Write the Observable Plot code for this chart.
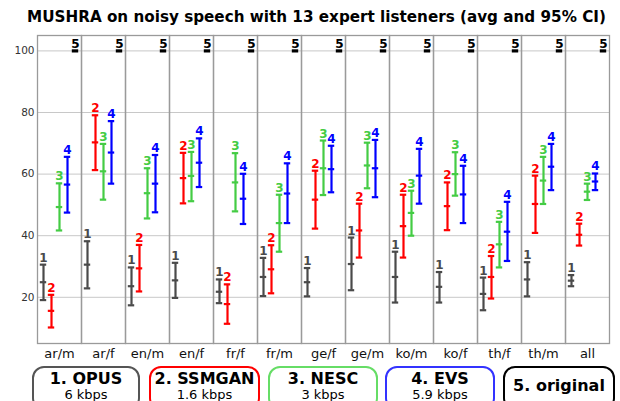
<!DOCTYPE html>
<html>
<head>
<meta charset="utf-8">
<script src="https://cdn.jsdelivr.net/npm/d3@7"></script>
<script src="https://cdn.jsdelivr.net/npm/@observablehq/plot@0.6"></script>
<style>
  html, body { margin: 0; padding: 0; background: #fff; }
  body { width: 620px; height: 401px; overflow: hidden; font-family: "DejaVu Sans", Verdana, sans-serif; position: relative; }
  #title { height: 30px; line-height: 35px; font-weight: bold; font-size: 15.2px; text-align: center; padding-left: 13px; white-space: nowrap; }
  #chart svg { display: block; }
  #legend { position: absolute; top: 366px; left: 0; width: 620px; height: 50px; }
  .box { position: absolute; top: 0; height: 44px; border: 2.7px solid; border-radius: 12px; box-sizing: border-box; text-align: center; }
  .box .n { font-weight: bold; font-size: 16px; line-height: 17px; margin-top: 2px; }
  .box .r { font-size: 13px; line-height: 15px; }
  .box.single .n { line-height: 36px; margin-top: 0; }
</style>
</head>
<body>
<div id="title">MUSHRA on noisy speech with 13 expert listeners (avg and 95% CI)</div>
<div id="chart"></div>
<div id="legend"></div>
<script>
const categories = ["ar/m","ar/f","en/m","en/f","fr/f","fr/m","ge/f","ge/m","ko/m","ko/f","th/f","th/m","all"];
const seriesKeys = ["1","2","3","4","5"];
const seriesNames = ["1. OPUS","2. SSMGAN","3. NESC","4. EVS","5. original"];
const seriesRates = ["6 kbps","1.6 kbps","3 kbps","5.9 kbps",""];
const seriesColors = ["#4a4a4a","#ff0000","#44cc44","#0000ff","#000000"];
const legendBorders = ["#555555","#ff0000","#66dd66","#3333ff","#000000"];

const opusMean = [24.9,30.6,23.6,25.5,21.8,26.6,24.9,30.8,26.6,23.4,21.1,25.8,25.4];
const opusLo   = [19.1,22.9,17.4,19.8,18.1,20.4,20.3,22.3,18.3,18.3,15.8,20.3,23.6];
const opusHi   = [30.6,38.2,29.7,31.2,25.8,32.8,29.5,39.4,34.8,28.2,26.4,31.4,27.2];

const ssmganMean = [15.6,70.3,29.4,58.7,17.8,29.1,51.7,41.7,43.1,49.6,26.6,50.3,40.3];
const ssmganLo   = [10.2,61.3,21.9,50.5,11.4,21.3,42.3,32.9,32.9,41.8,19.6,40.9,36.8];
const ssmganHi   = [20.8,79.1,37.0,66.9,24.2,36.9,61.1,50.4,53.3,57.3,33.4,59.5,43.9];

const nescMean = [49.3,60.9,53.8,59.4,57.3,44.1,61.9,62.8,47.4,60.0,37.2,57.9,54.3];
const nescLo   = [41.7,51.7,45.6,51.2,47.9,34.8,53.2,55.4,40.0,53.0,29.7,50.3,51.6];
const nescHi   = [57.0,69.8,61.9,67.2,66.8,53.3,70.9,70.2,54.6,67.1,44.5,65.6,56.9];

const evsMean = [56.6,67.0,56.9,63.7,52.0,53.7,61.6,61.9,59.5,53.4,41.3,62.4,57.6];
const evsLo   = [47.5,56.9,47.6,55.8,43.8,44.1,54.1,52.5,50.4,44.1,31.8,54.8,54.8];
const evsHi   = [65.6,77.2,66.2,71.6,60.1,63.5,69.2,71.1,68.2,62.7,51.0,69.8,60.2];

const origMean = [100,100,100,100,100,100,100,100,100,100,100,100,100];

const yTicks = [20,40,60,80,100];

const seriesData = [
  [opusMean, opusLo, opusHi],
  [ssmganMean, ssmganLo, ssmganHi],
  [nescMean, nescLo, nescHi],
  [evsMean, evsLo, evsHi],
  [origMean, origMean, origMean]
];

const rows = [];
seriesData.forEach(([m, lo, hi], si) => {
  categories.forEach((c, ci) => {
    rows.push({cat: c, s: seriesKeys[si], mean: m[ci], lo: lo[ci], hi: hi[ci]});
  });
});
const bars = rows.filter(d => d.s !== "5");
const orig = rows.filter(d => d.s === "5");

const common = {fx: "cat", x: "s"};
const cap = {stroke: "s", strokeWidth: 2.2, insetLeft: 0.8, insetRight: 0.8};

const chart = Plot.plot({
  width: 620,
  height: 335,
  marginTop: 5,
  marginLeft: 32,
  marginRight: 7,
  marginBottom: 22,
  style: {fontFamily: "DejaVu Sans, Verdana, sans-serif", fontSize: "10px", background: "#fff"},
  fx: {domain: categories, padding: 0, label: null},
  x: {domain: seriesKeys, padding: 0, axis: null},
  y: {domain: [5, 105], label: null},
  color: {domain: seriesKeys, range: seriesColors},
  marks: [
    Plot.gridY(yTicks, {stroke: "#c8c8c8", strokeOpacity: 1, strokeWidth: 1}),
    Plot.frame({stroke: "#9a9a9a", strokeWidth: 1.3}),
    Plot.axisY(yTicks, {tickSize: 0, tickPadding: 3, fontSize: 10.5, fill: "#333", label: null}),
    Plot.axisFx({anchor: "bottom", tickSize: 0, tickPadding: 5, fontSize: 13, fill: "#111", label: null}),
    Plot.ruleX(bars, {...common, y1: "lo", y2: "hi", stroke: "s", strokeWidth: 2.2}),
    Plot.tickY(bars, {...common, y: "lo", ...cap}),
    Plot.tickY(bars, {...common, y: "hi", ...cap}),
    Plot.tickY(bars, {...common, y: "mean", ...cap}),
    Plot.tickY(orig, {...common, y: "mean", stroke: "s", strokeWidth: 3.2, insetLeft: 0.8, insetRight: 0.8}),
    Plot.text(rows, {...common, y: "hi", text: "s", fill: "s", lineAnchor: "bottom", dy: -3, fontWeight: "bold", fontSize: 12})
  ]
});
document.getElementById("chart").appendChild(chart);

// legend
const lefts = [32, 149, 268, 385, 503];
const widths = [108, 111, 110, 110, 112];
const legend = document.getElementById("legend");
seriesNames.forEach((name, i) => {
  const b = document.createElement("div");
  b.className = "box" + (seriesRates[i] ? "" : " single");
  b.style.left = lefts[i] + "px";
  b.style.width = widths[i] + "px";
  b.style.borderColor = legendBorders[i];
  const n = document.createElement("div");
  n.className = "n";
  n.textContent = name;
  b.appendChild(n);
  if (seriesRates[i]) {
    const r = document.createElement("div");
    r.className = "r";
    r.textContent = seriesRates[i];
    b.appendChild(r);
  }
  legend.appendChild(b);
});
</script>
</body>
</html>
